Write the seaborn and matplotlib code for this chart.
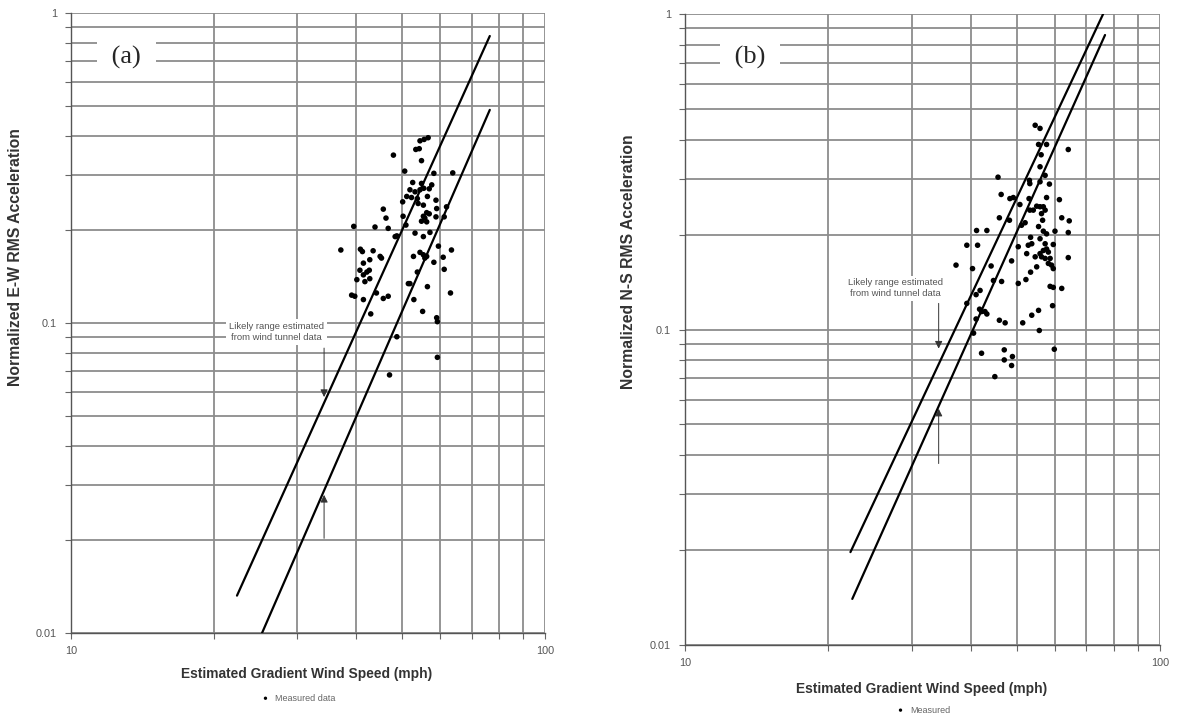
import pandas as pd
import matplotlib.pyplot as plt
import seaborn as sns
from matplotlib.ticker import FixedLocator, FixedFormatter, NullFormatter

# Panel (a): E-W measured data (wind speed mph, normalized RMS acceleration)
ew_speed = [56.7, 55.6, 54.5, 53.4, 54.3, 47.9, 54.9, 50.6, 58.3, 63.9,
            52.6, 54.9, 57.7, 51.9, 53.2, 54.5, 55.5, 57.0, 51.1, 52.3,
            53.8, 56.5, 58.9, 50.1, 54.0, 55.4, 45.6, 59.1, 62.0, 56.3,
            55.4, 57.0, 55.8, 58.9, 61.3, 46.2, 50.2, 54.9, 56.3, 50.9,
            39.5, 43.8, 46.7, 48.7, 48.3, 53.2, 55.4, 57.2, 37.1, 40.8,
            41.2, 43.4, 44.9, 45.2, 52.8, 54.5, 55.4, 56.3, 55.8, 59.6,
            63.5, 61.0, 58.3, 61.3, 41.4, 42.7, 40.7, 42.1, 42.6, 41.4,
            40.1, 41.7, 42.7, 51.9, 51.5, 53.8, 39.1, 39.7, 44.1, 45.6,
            46.7, 41.4, 56.5, 63.2, 52.9, 42.9, 55.2, 59.1, 59.3, 48.7,
            59.3, 47.0]
ew_accel = [0.396, 0.391, 0.387, 0.363, 0.365, 0.348, 0.334, 0.309, 0.304, 0.305,
            0.284, 0.282, 0.279, 0.269, 0.265, 0.269, 0.272, 0.271, 0.256, 0.254,
            0.252, 0.256, 0.249, 0.246, 0.243, 0.240, 0.233, 0.234, 0.237, 0.227,
            0.221, 0.225, 0.218, 0.220, 0.220, 0.218, 0.221, 0.213, 0.212, 0.207,
            0.205, 0.204, 0.202, 0.191, 0.190, 0.195, 0.190, 0.196, 0.172, 0.173,
            0.170, 0.171, 0.164, 0.162, 0.164, 0.169, 0.166, 0.164, 0.162, 0.177,
            0.172, 0.163, 0.157, 0.149, 0.156, 0.160, 0.148, 0.146, 0.148, 0.143,
            0.138, 0.136, 0.139, 0.134, 0.134, 0.146, 0.123, 0.122, 0.125, 0.120,
            0.122, 0.119, 0.131, 0.125, 0.119, 0.107, 0.109, 0.104, 0.101, 0.0903,
            0.0775, 0.0680]

# Panel (b): N-S measured data
ns_speed = [54.6, 55.9, 55.5, 57.7, 64.1, 56.2, 55.9, 57.3, 45.6, 53.1,
            55.9, 53.2, 58.5, 46.3, 48.3, 49.1, 53.0, 57.7, 61.4, 50.7,
            55.0, 55.9, 53.2, 54.1, 56.8, 57.3, 56.3, 45.9, 48.2, 52.0,
            51.1, 56.6, 62.1, 64.4, 41.1, 43.2, 55.5, 56.8, 57.7, 60.1,
            64.1, 53.4, 55.9, 39.2, 41.3, 50.3, 53.7, 52.8, 57.3, 59.6,
            57.7, 52.4, 54.6, 55.9, 56.8, 58.2, 56.3, 58.7, 57.3, 64.1,
            37.2, 40.3, 44.1, 48.7, 55.0, 58.2, 59.1, 53.4, 59.6, 44.6,
            46.4, 50.3, 52.2, 41.8, 41.0, 58.7, 59.6, 62.1, 39.2, 41.7,
            42.8, 43.2, 42.1, 41.0, 45.9, 47.2, 51.4, 53.7, 55.5, 59.4,
            40.5, 55.7, 42.1, 47.0, 48.9, 47.0, 48.7, 59.9, 44.9]
ns_accel = [0.444, 0.434, 0.386, 0.386, 0.372, 0.358, 0.328, 0.308, 0.304, 0.297,
            0.294, 0.290, 0.289, 0.268, 0.260, 0.262, 0.260, 0.262, 0.258, 0.249,
            0.246, 0.245, 0.239, 0.239, 0.245, 0.239, 0.233, 0.226, 0.222, 0.218,
            0.214, 0.222, 0.226, 0.221, 0.206, 0.206, 0.212, 0.205, 0.201, 0.205,
            0.203, 0.196, 0.194, 0.185, 0.185, 0.183, 0.187, 0.185, 0.187, 0.186,
            0.180, 0.174, 0.170, 0.174, 0.178, 0.176, 0.170, 0.168, 0.168, 0.169,
            0.160, 0.156, 0.159, 0.165, 0.158, 0.162, 0.160, 0.152, 0.156, 0.143,
            0.142, 0.140, 0.144, 0.133, 0.129, 0.137, 0.136, 0.135, 0.121, 0.116,
            0.114, 0.112, 0.114, 0.108, 0.107, 0.105, 0.105, 0.111, 0.115, 0.119,
            0.0974, 0.0993, 0.0841, 0.0862, 0.0821, 0.0801, 0.0769, 0.0866, 0.0709]

# Likely range from wind tunnel data (straight lines on log-log axes)
ew_upper_speed, ew_upper_accel = [22.4, 76.5], [0.0132, 0.843]
ew_lower_speed, ew_lower_accel = [25.3, 76.5], [0.0100, 0.487]
ns_upper_speed, ns_upper_accel = [22.3, 75.9], [0.0197, 1.0]
ns_lower_speed, ns_lower_accel = [22.5, 76.6], [0.0140, 0.858]

x_major = [10, 100]
x_minor = [20, 30, 40, 50, 60, 70, 80, 90]
y_major = [0.01, 0.1, 1]
y_minor = [0.02, 0.03, 0.04, 0.05, 0.06, 0.07, 0.08, 0.09,
           0.2, 0.3, 0.4, 0.5, 0.6, 0.7, 0.8, 0.9]

sns.set_style("white")
plt.rcParams["font.family"] = ["Liberation Sans", "DejaVu Sans"]

fig = plt.figure(figsize=(11.79, 7.19), dpi=100)
ax_a = fig.add_axes([0.0602, 0.1196, 0.4020, 0.8623])
ax_b = fig.add_axes([0.5810, 0.1029, 0.4029, 0.8776])

grid_col = "#8c8c8c"
text_col = "#555555"


def draw_panel(ax, speed, accel, up, lo, ylabel, tag, legend_txt,
               arrow_x, arrows, note_xy, xlab_y, leg_xy, ylab_xy):
    ax.set(xscale="log", yscale="log", xlim=(10, 100), ylim=(0.01, 1))
    df = pd.DataFrame({"speed": speed, "accel": accel})
    sns.scatterplot(data=df, x="speed", y="accel", ax=ax, color="black",
                    s=16, edgecolor="none", label=legend_txt, zorder=4)
    for sp, ac in (up, lo):
        sns.lineplot(x=sp, y=ac, ax=ax, color="black", lw=1.6,
                     legend=False, zorder=3)

    ax.xaxis.set_major_locator(FixedLocator(x_major))
    ax.xaxis.set_major_formatter(FixedFormatter([str(v) for v in x_major]))
    ax.xaxis.set_minor_locator(FixedLocator(x_minor))
    ax.xaxis.set_minor_formatter(NullFormatter())
    ax.yaxis.set_major_locator(FixedLocator(y_major))
    ax.yaxis.set_major_formatter(FixedFormatter(["0.01", "0.1", "1"]))
    ax.yaxis.set_minor_locator(FixedLocator(y_minor))
    ax.yaxis.set_minor_formatter(NullFormatter())
    ax.grid(True, which="both", color=grid_col, lw=1.3)
    ax.set_axisbelow(True)
    ax.tick_params(which="both", direction="out", length=4, width=0.8,
                   color="#666666", labelsize=7.8, labelcolor=text_col)
    ax.tick_params(axis="x", which="both", pad=5, bottom=True)
    ax.tick_params(axis="y", which="both", pad=6, left=True)
    for side in ("top", "right"):
        ax.spines[side].set_visible(False)
    for side in ("left", "bottom"):
        ax.spines[side].set_color("#555555")
        ax.spines[side].set_linewidth(1.0)

    ax.set_xlabel("Estimated Gradient Wind Speed (mph)", fontsize=9.9,
                  fontweight="bold", color="#333333")
    ax.xaxis.set_label_coords(0.498, xlab_y)
    ax.set_ylabel(ylabel, fontsize=11.3, fontweight="bold", color="#333333")
    ax.yaxis.set_label_coords(*ylab_xy)

    ax.text(tag[1], tag[2], " " + tag[0] + " ", fontsize=19,
            family="Liberation Serif", ha="center", va="center", zorder=6,
            bbox=dict(boxstyle="square,pad=0.3", fc="white", ec="none"))

    ax.text(note_xy[0], note_xy[1], "Likely range estimated\nfrom wind tunnel data",
            fontsize=6.8, color=text_col, ha="center", va="center",
            linespacing=1.3, zorder=6,
            bbox=dict(boxstyle="square,pad=0.3", fc="white", ec="none"))
    for head, tail in arrows:
        ax.annotate("", xy=(arrow_x, head), xytext=(arrow_x, tail),
                    arrowprops=dict(arrowstyle="-|>", color="#333333",
                                    lw=0.7, mutation_scale=11,
                                    shrinkA=0, shrinkB=0), zorder=5)

    h, l = ax.get_legend_handles_labels()
    ax.legend(h, l, loc="center", bbox_to_anchor=leg_xy, frameon=False,
              fontsize=6.5, labelcolor="#666666", handletextpad=0.1,
              markerscale=0.6, borderpad=0)


draw_panel(ax_a, ew_speed, ew_accel,
           (ew_upper_speed, ew_upper_accel), (ew_lower_speed, ew_lower_accel),
           "Normalized E-W RMS Acceleration", ("(a)", 13.1, 0.72),
           "Measured data", 34.2, [(0.0577, 0.083), (0.0279, 0.0202)],
           (27.1, 0.0935), -0.055, (0.475, -0.105), (-0.101, 0.606))

draw_panel(ax_b, ns_speed, ns_accel,
           (ns_upper_speed, ns_upper_accel), (ns_lower_speed, ns_lower_accel),
           "Normalized N-S RMS Acceleration", ("(b)", 13.7, 0.73),
           "Measured", 34.2, [(0.087, 0.121), (0.0561, 0.0376)],
           (27.7, 0.135), -0.059, (0.497, -0.103), (-0.103, 0.608))

fig.savefig("out.png", dpi=100, facecolor="white")
plt.close(fig)
